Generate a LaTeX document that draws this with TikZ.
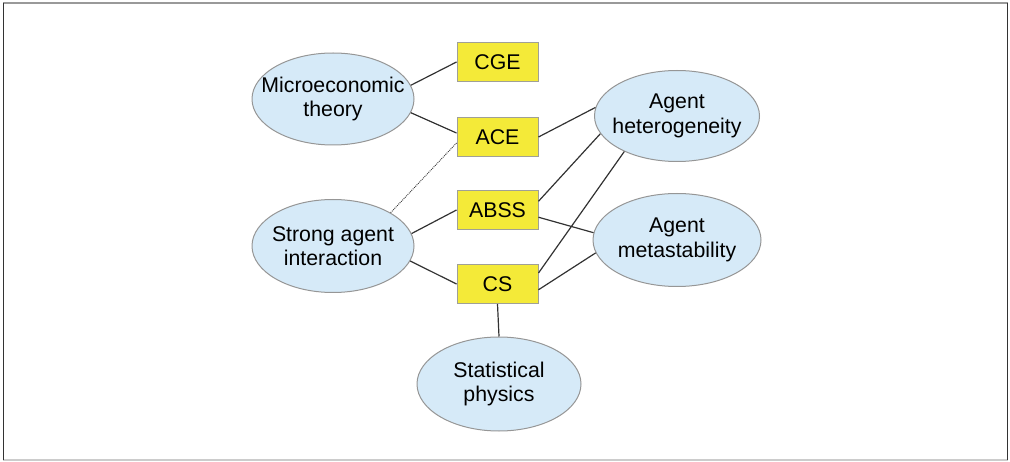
\documentclass[tikz,border=0pt]{standalone}
\usepackage{fontspec}
\setmainfont{Liberation Sans}
\usetikzlibrary{shapes.geometric}
\definecolor{ellfill}{RGB}{214,234,248}
\definecolor{ellline}{RGB}{150,150,150}
\definecolor{boxfill}{RGB}{244,234,56}
\definecolor{boxline}{RGB}{160,160,150}
\definecolor{wire}{RGB}{50,50,50}
\tikzset{
  topic/.style={ellipse, draw=ellline, fill=ellfill, line width=1pt,
    inner xsep=-16pt, inner ysep=0pt, align=center,
    font=\fontsize{21.3}{24.5}\selectfont},
  field/.style={rectangle, draw=boxline, fill=boxfill, line width=1pt,
    minimum width=81pt, minimum height=39pt, inner sep=0pt,
    font=\fontsize{21.3}{24.5}\selectfont},
  link/.style={draw=wire, line width=1.2pt},
  weak/.style={draw=wire, line width=0.9pt, densely dotted}
}
\begin{document}
\begin{tikzpicture}[x=1pt, y=-1pt]
  \useasboundingbox (0,0) rectangle (1010,462);
  % frame
  \draw[gray!80, line width=1.2pt] (3,3) -- (1008,3);
  \draw[gray!40, line width=1.2pt] (3,460) -- (1008,460);
  \draw[black!80, line width=1.4pt] (3.5,3) -- (3.5,460);
  \draw[black!80, line width=1.4pt] (1007.5,3) -- (1007.5,460);

  % topics
  \node[topic, minimum width=162pt, minimum height=92pt] (micro) at (333,99) {Microeconomic\\theory};
  \node[topic, minimum width=162pt, minimum height=93pt] (strong) at (333,246) {Strong agent\\interaction};
  \node[topic, minimum width=164pt, minimum height=94pt] (stat) at (499,384) {Statistical\\physics};
  \node[topic, minimum width=165pt, minimum height=91pt] (het) at (677,116) {Agent\\heterogeneity};
  \node[topic, minimum width=168pt, minimum height=93pt] (meta) at (677,240) {Agent\\metastability};

  % fields
  \node[field] (cge) at (497.5,62) {CGE};
  \node[field] (ace) at (497.5,137) {ACE};
  \node[field] (abss) at (497.5,210) {ABSS};
  \node[field] (cs) at (497.5,284) {CS};

  % connections
  \draw[link] (micro.10) -- (cge.west);
  \draw[link] (micro.-10) -- ([yshift=4pt]ace.west);
  \draw[link] (ace.east) -- (het.174);
  \draw[weak] ([yshift=-6pt]ace.west) -- (strong.30);
  \draw[link] (strong.9) -- (abss.west);
  \draw[link] (strong.-11) -- (cs.west);
  \draw[link] (abss.12) -- (het.-167);
  \draw[link] (abss.-10) -- (meta.175);
  \draw[link] (cs.15) -- (het.-146);
  \draw[link] (cs.-8) -- (meta.-171);
  \draw[link] (cs.south) -- (stat.north);
\end{tikzpicture}
\end{document}
